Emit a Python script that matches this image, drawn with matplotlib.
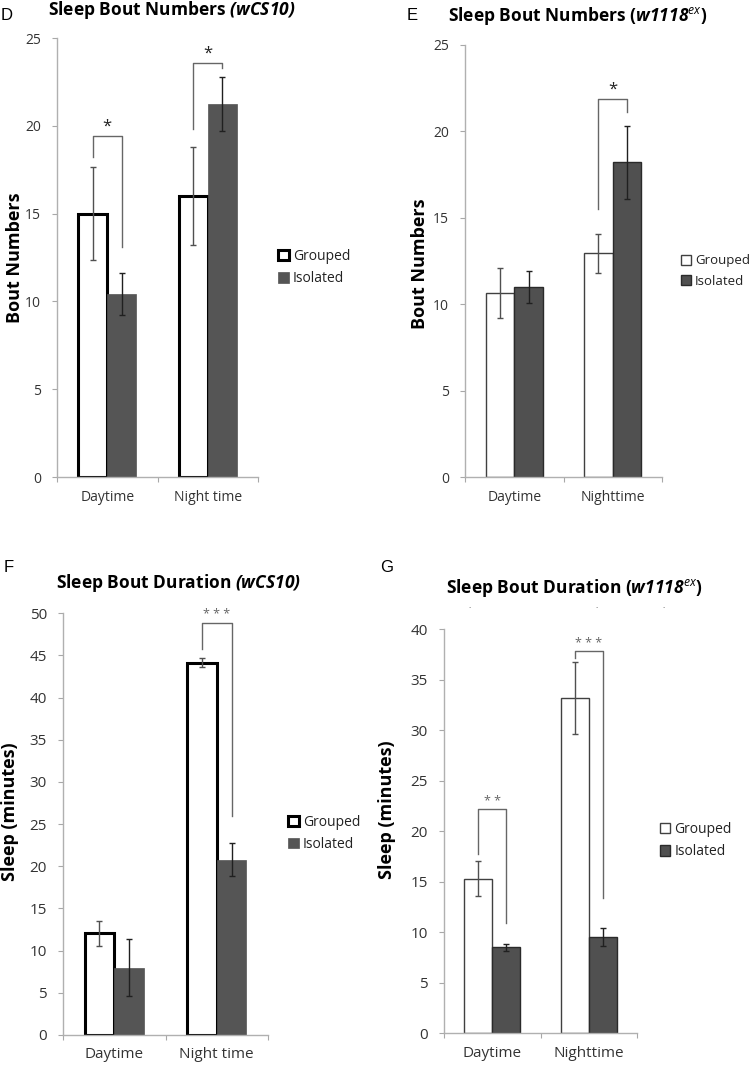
import matplotlib.pyplot as plt
import numpy as np

plt.rcParams['font.family'] = ['Open Sans', 'DejaVu Sans']
plt.rcParams['mathtext.fontset'] = 'custom'
plt.rcParams['mathtext.rm'] = 'Open Sans:bold'
plt.rcParams['mathtext.it'] = 'Open Sans:italic'
plt.rcParams['mathtext.bf'] = 'Open Sans:bold'
plt.rcParams['mathtext.bfit'] = 'Open Sans:bold:italic'

W, H = 750, 1075

# data
cats_wcs = ['Daytime', 'Night time']
cats_w1118 = ['Daytime', 'Nighttime']
series = ['Grouped', 'Isolated']

d_grouped = [15.0, 16.0]
d_grouped_err = [2.65, 2.8]
d_isolated = [10.4, 21.25]
d_isolated_err = [1.2, 1.55]

e_grouped = [10.67, 12.94]
e_grouped_err = [1.45, 1.12]
e_isolated = [10.98, 18.21]
e_isolated_err = [0.92, 2.12]

f_grouped = [12.05, 44.15]
f_grouped_err = [1.45, 0.55]
f_isolated = [8.0, 20.8]
f_isolated_err = [3.35, 2.0]

g_grouped = [15.3, 33.2]
g_grouped_err = [1.75, 3.55]
g_isolated = [8.5, 9.5]
g_isolated_err = [0.33, 0.9]

# significance brackets: (category, left leg end, bar top, right leg end, stars)
d_sig = [(0, 18.2, 19.4, 13.1, '*'), (1, 19.8, 23.6, 23.3, '*')]
e_sig = [(1, 15.5, 21.9, 21.1, '*')]
f_sig = [(1, 45.8, 48.9, 26.0, '* * *')]
g_sig = [(0, 17.8, 22.2, 10.9, '* *'), (1, 37.2, 37.85, 13.4, '* * *')]


def px_box(l, r, b, t):
    return [l / W, 1 - b / H, (r - l) / W, (b - t) / H]


def panel(ax, cats, grp, grp_err, iso, iso_err, sig, ymax, ystep, ylabel,
          heavy, fs, lab_xy, leg_xy, leg_fs, star_color, star_fs):
    x = np.arange(len(cats))
    w = 0.29
    if heavy:
        ax.bar(x - w / 2, grp, w, color='white', edgecolor='black',
               linewidth=2.2, label=series[0], zorder=2)
        ax.bar(x + w / 2, iso, w, color='#555555', edgecolor='#555555',
               linewidth=0.5, label=series[1], zorder=2)
    else:
        ax.bar(x - w / 2, grp, w, color='white', edgecolor='#404040',
               linewidth=1.0, label=series[0], zorder=2)
        ax.bar(x + w / 2, iso, w, color='#505050', edgecolor='#2a2a2a',
               linewidth=1.0, label=series[1], zorder=2)
    ax.errorbar(x - w / 2, grp, yerr=grp_err, fmt='none', ecolor='#505050',
                elinewidth=1, capsize=2.5, capthick=1, zorder=3)
    ax.errorbar(x + w / 2, iso, yerr=iso_err, fmt='none', ecolor='#202020',
                elinewidth=1, capsize=2.5, capthick=1, zorder=3)

    for ci, yl, yt, yr, s in sig:
        xl, xr = ci - w / 2, ci + w / 2
        ax.plot([xl, xl, xr, xr], [yl, yt, yt, yr], color='#666666',
                lw=1, zorder=4, clip_on=False)
        ax.annotate(s, xy=(ci, yt), xytext=(0, 1), textcoords='offset points',
                    ha='center', va='bottom', fontsize=star_fs,
                    color=star_color, annotation_clip=False)

    ax.set_xlim(-0.5, 1.5)
    ax.set_ylim(0, ymax)
    ax.set_yticks(np.arange(0, ymax + 0.1, ystep))
    ax.set_xticks([-0.5, 0.5, 1.5])
    ax.set_xticklabels([])
    ax.set_xticks(x, minor=True)
    ax.set_xticklabels(cats, minor=True, fontsize=fs, color='#333333')
    ax.tick_params(axis='x', which='major', direction='out', length=3.6,
                   color='#a8a8a8')
    ax.tick_params(axis='x', which='minor', length=0, pad=9)
    ax.tick_params(axis='y', direction='out', length=3.6, color='#a8a8a8',
                   pad=8, labelsize=fs, labelcolor='#333333')
    for side in ['top', 'right']:
        ax.spines[side].set_visible(False)
    for side in ['left', 'bottom']:
        ax.spines[side].set_color('#b0b0b0')
        ax.spines[side].set_linewidth(1)

    ax.set_ylabel(ylabel, fontsize=13, fontweight='bold', va='center')
    ax.yaxis.set_label_coords(*lab_xy)

    ax.legend(loc='center left', bbox_to_anchor=leg_xy, frameon=False,
              borderpad=0, borderaxespad=0, handlelength=0.75,
              handleheight=0.75, handletextpad=0.3, labelspacing=0.55,
              fontsize=leg_fs, labelcolor='#222222')


fig = plt.figure(figsize=(W / 100, H / 100), dpi=100)

ax_d = fig.add_axes(px_box(57, 258, 477, 38))
ax_e = fig.add_axes(px_box(465, 662, 477, 45))
ax_f = fig.add_axes(px_box(63, 268, 1035, 613.3))
ax_g = fig.add_axes(px_box(444, 637.3, 1033.3, 629.3))

panel(ax_d, cats_wcs, d_grouped, d_grouped_err, d_isolated, d_isolated_err,
      d_sig, 25, 5, 'Bout Numbers', True, 10, (-0.209, 0.5),
      (1.10, 0.477), 10, '#222222', 12)
panel(ax_e, cats_w1118, e_grouped, e_grouped_err, e_isolated, e_isolated_err,
      e_sig, 25, 5, 'Bout Numbers', False, 10, (-0.228, 0.494),
      (1.096, 0.477), 9.5, '#222222', 12)
panel(ax_f, cats_wcs, f_grouped, f_grouped_err, f_isolated, f_isolated_err,
      f_sig, 50, 5, 'Sleep (minutes)', True, 11, (-0.259, 0.53),
      (1.098, 0.478), 10, '#666666', 9)
panel(ax_g, cats_w1118, g_grouped, g_grouped_err, g_isolated, g_isolated_err,
      g_sig, 40, 5, 'Sleep (minutes)', False, 11, (-0.295, 0.554),
      (1.117, 0.477), 10, '#666666', 9)

# panel letters and titles
fig.text(1 / W, 1 - 15 / H, 'D', fontsize=12, family='Liberation Sans',
         va='center', ha='left')
fig.text(407 / W, 1 - 15 / H, 'E', fontsize=12, family='Liberation Sans',
         va='center', ha='left')
fig.text(4 / W, 1 - 568 / H, 'F', fontsize=12, family='Liberation Sans',
         va='center', ha='left')
fig.text(380 / W, 1 - 568 / H, 'G', fontsize=12, family='Liberation Sans',
         va='center', ha='left')

fig.text(48 / W, 1 - 10 / H, r'Sleep Bout Numbers $\mathbfit{(wCS10)}$',
         fontsize=12.5, fontweight='bold', va='center', ha='left')
fig.text(448 / W, 1 - 16 / H, r'Sleep Bout Numbers ($\mathbfit{w1118}^{\mathit{ex}}$)',
         fontsize=12.5, fontweight='bold', va='center', ha='left')
fig.text(56 / W, 1 - 583 / H, r'Sleep Bout Duration $\mathbfit{(wCS10)}$',
         fontsize=12.5, fontweight='bold', va='center', ha='left')
fig.text(446 / W, 1 - 588 / H, r'Sleep Bout Duration ($\mathbfit{w1118}^{\mathit{ex}}$)',
         fontsize=12.5, fontweight='bold', va='center', ha='left')

# small stray dots under panel G title
for xp in [470, 597, 664]:
    fig.text(xp / W, 1 - 607 / H, '.', fontsize=6, color='#444444',
             ha='center', va='center')

fig.savefig('out.png', dpi=100)
